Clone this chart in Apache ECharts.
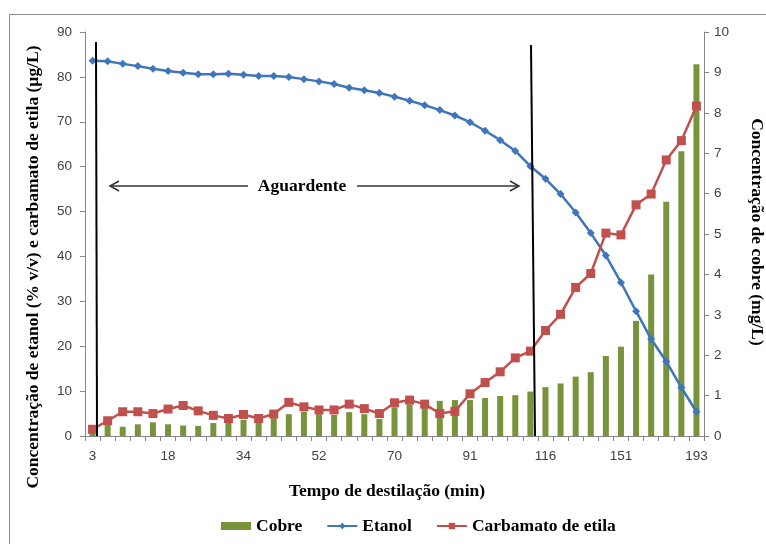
<!DOCTYPE html>
<html><head><meta charset="utf-8">
<script src="https://cdn.jsdelivr.net/npm/echarts@6/dist/echarts.min.js"></script>
<style>html,body{margin:0;padding:0;background:#fff}#c{width:766px;height:544px}</style>
</head><body><div id="c"></div>
<script>
// Distillation time (min) – only every 5th label is shown on the axis
const times = [3,6,9,12,15,18,21,24,28,31,34,38,41,45,48,52,56,59,63,66,70,74,78,83,87,91,96,101,106,111,116,123,130,137,144,151,159,168,176,185,193];
// Etanol (% v/v) – left axis
const etanol = [83.6,83.5,82.9,82.4,81.8,81.3,80.9,80.6,80.6,80.7,80.5,80.2,80.2,80.0,79.5,79.0,78.4,77.6,77.0,76.4,75.6,74.7,73.7,72.6,71.4,69.9,68.0,65.9,63.5,60.1,57.3,53.9,49.8,45.2,40.2,34.2,27.8,21.6,16.6,10.8,5.4];
// Carbamato de etila (µg/L) – left axis
const carbamato = [1.5,3.4,5.4,5.4,5.0,6.0,6.8,5.6,4.6,3.9,4.8,3.9,4.9,7.5,6.5,5.8,5.8,7.1,6.1,5.0,7.4,8.0,7.1,5.0,5.5,9.4,11.9,14.3,17.4,18.9,23.5,27.1,33.1,36.2,45.2,44.8,51.5,53.9,61.5,65.8,73.5];
// Cobre (mg/L) – right axis
const cobre = [0.1,0.27,0.23,0.29,0.34,0.29,0.26,0.25,0.32,0.35,0.40,0.33,0.44,0.54,0.60,0.54,0.52,0.59,0.54,0.42,0.71,0.78,0.85,0.87,0.89,0.89,0.94,0.99,1.01,1.10,1.21,1.30,1.47,1.58,1.98,2.21,2.85,4.00,5.80,7.05,9.2];
const leftTicks = [0,10,20,30,40,50,60,70,80,90];
const rightTicks = [0,1,2,3,4,5,6,7,8,9,10];

const serif = '"Liberation Serif","DejaVu Serif",serif';
const sans = '"Liberation Sans","DejaVu Sans",sans-serif';
const axisGray = '#868686';
const labelColor = '#404040';
const titleFont = 'bold 17.5px ' + serif;

const chart = echarts.init(document.getElementById('c'), null, {renderer:'canvas'});
chart.setOption({
  animation:false,
  backgroundColor:'#fff',
  grid:{left:85,right:62,top:32,bottom:108,containLabel:false},
  legend:{
    top:512,left:216,itemGap:24,itemWidth:30,itemHeight:8,
    textStyle:{fontFamily:serif,fontWeight:'bold',fontSize:17.5,color:'#000'},
    data:[{name:'Cobre',icon:'rect',itemStyle:{color:'#77933C'}},'Etanol','Carbamato de etila']
  },
  xAxis:{
    type:'category',data:times,boundaryGap:true,
    axisLine:{lineStyle:{color:axisGray,width:1}},
    axisTick:{show:true,interval:0,alignWithLabel:false,length:5,lineStyle:{color:axisGray}},
    axisLabel:{interval:4,color:labelColor,fontFamily:sans,fontSize:13.5,margin:13},
    splitLine:{show:false}
  },
  yAxis:[
    {type:'value',min:0,max:90,interval:10,position:'left',
     axisLine:{show:true,lineStyle:{color:axisGray}},
     axisTick:{show:true,length:5,lineStyle:{color:axisGray}},
     axisLabel:{color:labelColor,fontFamily:sans,fontSize:13.5,margin:13},
     splitLine:{show:false}},
    {type:'value',min:0,max:10,interval:1,position:'right',
     axisLine:{show:true,lineStyle:{color:axisGray}},
     axisTick:{show:true,length:5,lineStyle:{color:axisGray}},
     axisLabel:{color:labelColor,fontFamily:sans,fontSize:13.5,margin:10},
     splitLine:{show:false}}
  ],
  series:[
    {name:'Cobre',type:'bar',yAxisIndex:1,data:cobre,barWidth:6,
     itemStyle:{color:'#77933C'}},
    {name:'Etanol',type:'line',yAxisIndex:0,data:etanol,
     symbol:'diamond',symbolSize:8,lineStyle:{color:'#3E75BB',width:2.5},
     itemStyle:{color:'#3E75BB'}},
    {name:'Carbamato de etila',type:'line',yAxisIndex:0,data:carbamato,
     symbol:'rect',symbolSize:9,lineStyle:{color:'#C0504D',width:2.5},
     itemStyle:{color:'#C0504D'}}
  ],
  graphic:[
    {type:'rect',shape:{x:9.5,y:14.5,width:800,height:600},style:{fill:'none',stroke:'#8a8a8a',lineWidth:1},z:-1},
    {type:'line',shape:{x1:96,y1:42,x2:97,y2:436},style:{stroke:'#000',lineWidth:2},z:50},
    {type:'line',shape:{x1:531,y1:45,x2:535,y2:436},style:{stroke:'#000',lineWidth:2},z:50},
    {type:'line',shape:{x1:110,y1:186,x2:248,y2:186},style:{stroke:'#333',lineWidth:1.5},z:50},
    {type:'line',shape:{x1:357,y1:186,x2:519,y2:186},style:{stroke:'#333',lineWidth:1.5},z:50},
    {type:'polyline',shape:{points:[[119,181],[110,186],[119,191]]},style:{stroke:'#333',lineWidth:1.5,fill:'none'},z:50},
    {type:'polyline',shape:{points:[[510,181],[519,186],[510,191]]},style:{stroke:'#333',lineWidth:1.5,fill:'none'},z:50},
    {type:'text',x:302,y:186,style:{text:'Aguardente',font:titleFont,fill:'#000',align:'center',verticalAlign:'middle'},z:50},
    {type:'text',x:387,y:491,style:{text:'Tempo de destilação (min)',font:titleFont,fill:'#000',align:'center',verticalAlign:'middle'}},
    {type:'text',x:33,y:267,rotation:Math.PI/2,style:{text:'Concentração de etanol (% v/v) e carbamato de etila (µg/L)',font:titleFont,fill:'#000',align:'center',verticalAlign:'middle'}},
    {type:'text',x:757,y:232,rotation:-Math.PI/2,style:{text:'Concentração de cobre (mg/L)',font:titleFont,fill:'#000',align:'center',verticalAlign:'middle'}}
  ]
});
</script></body></html>
